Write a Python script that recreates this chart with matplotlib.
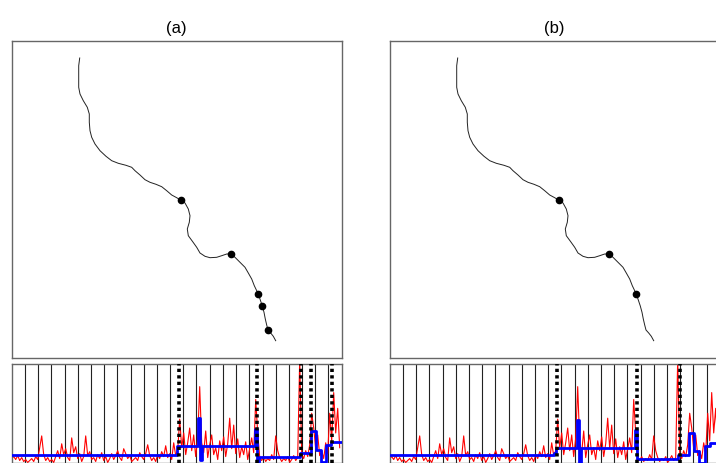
import numpy as np
import matplotlib.pyplot as plt

# river trace (map units, y grows downward)
path_x = [68.0, 67.0, 67.0, 67.0, 68.3, 71.6, 75.6, 77.6, 77.6, 78.3, 80.0, 83.3, 88.3, 94.3,
          100.0, 106.6, 114.3, 120.0, 123.3, 128.3, 133.3, 138.3, 144.3, 150.0, 155.0, 160.0,
          165.0, 169.3, 173.3, 176.6, 178.3, 177.6, 175.6, 176.6, 181.0, 185.0, 188.3, 193.3,
          198.3, 205.0, 210.0, 215.0, 219.3, 223.3, 228.3, 233.3, 236.6, 240.0, 242.6, 245.0,
          246.6, 248.6, 250.6, 252.3, 253.6, 255.0, 256.3, 259.0, 261.6, 264.0]
path_y = [17.3, 25.0, 35.0, 46.6, 53.3, 60.0, 66.6, 73.3, 81.6, 90.0, 96.6, 103.3, 110.0, 115.6,
          120.0, 122.6, 124.6, 126.6, 130.0, 134.3, 139.0, 141.6, 143.6, 146.0, 150.0, 154.3,
          157.0, 159.6, 162.3, 168.3, 175.0, 181.6, 188.3, 195.0, 201.0, 206.6, 212.3, 215.6,
          217.0, 216.6, 215.0, 213.3, 213.3, 216.6, 221.6, 226.6, 232.3, 238.3, 245.0, 250.0,
          253.3, 259.3, 265.3, 271.6, 278.3, 284.3, 289.3, 292.3, 295.6, 300.0]

# detected change points on the map
pts_a_x = [169.3, 219.3, 246.6, 250.6, 256.3]
pts_a_y = [159.6, 213.3, 253.3, 265.3, 289.3]
pts_b_x = [169.3, 219.3, 246.6]
pts_b_y = [159.6, 213.3, 253.3]

# signal along the trace
signal = [0.04, 0.06, 0.03, 0.07, 0.02, 0.05, 0.01, 0.03, 0.00, 0.02, 0.04, 0.01, 0.06, 0.03,
          0.15, 0.27, 0.08, 0.02, 0.05, 0.01, 0.03, 0.00, 0.06, 0.12, 0.04, 0.19, 0.08, 0.14,
          0.05, 0.02, 0.25, 0.10, 0.16, 0.04, 0.09, 0.01, 0.06, 0.27, 0.07, 0.11, 0.03, 0.05,
          0.01, 0.08, 0.04, 0.10, 0.02, 0.06, 0.00, 0.04, 0.09, 0.03, 0.07, 0.12, 0.05, 0.02,
          0.14, 0.09, 0.04, 0.07, 0.01, 0.03, 0.05, 0.02, 0.10, 0.06, 0.03, 0.09, 0.18, 0.07,
          0.02, 0.05, 0.01, 0.08, 0.04, 0.11, 0.06, 0.17, 0.05, 0.09, 0.03, 0.20, 0.07, 0.12,
          0.44, 0.15, 0.30, 0.08, 0.20, 0.35, 0.12, 0.28, 0.06, 0.25, 0.77, 0.20, 0.10, 0.32,
          0.05, 0.18, 0.28, 0.08, 0.15, 0.03, 0.22, 0.12, 0.26, 0.06, 0.19, 0.45, 0.14, 0.38,
          0.09, 0.24, 0.05, 0.16, 0.08, 0.21, 0.03, 0.14, 0.25, 0.10, 0.64, 0.30, 0.05, 0.02,
          0.06, 0.01, 0.04, 0.02, 0.08, 0.03, 0.27, 0.12, 0.05, 0.01, 0.04, 0.02, 0.06, 0.00,
          0.03, 0.07, 0.02, 0.05, 1.05, 0.08, 0.04, 0.12, 0.06, 0.18, 0.50, 0.35, 0.14, 0.28,
          0.07, 0.12, 0.04, 0.20, 0.09, 0.50, 0.22, 0.71, 0.30, 0.55, 0.15]
sig_pos = np.arange(len(signal)) * 2.0

# fitted piecewise-constant means
edges_a = [0, 165.5, 186.5, 188, 190, 243.5, 245.5, 247.5, 288.5, 299, 304.7, 309, 314.7, 319.7, 330]
levels_a = [0.075, 0.166, 0.45, 0.03, 0.166, 0.34, 0.01, 0.06, 0.095, 0.32, 0.122, 0.01, 0.177, 0.21]
edges_b = [0, 164.5, 166.5, 187.5, 189.5, 191.5, 245.3, 247.7, 288, 299.6, 304.3, 309.6, 315.3, 320.3, 330]
levels_b = [0.075, 0.10, 0.143, 0.43, 0.0, 0.143, 0.33, 0.04, 0.08, 0.30, 0.115, 0.0, 0.166, 0.2]

# change point markers
cps_a = [167.3, 245.3, 289.7, 299.2, 319.8]
cps_b = [167.0, 247.5, 290.5]

W, H = 716, 464
fig = plt.figure(figsize=(W / 100, H / 100), dpi=100)
plt.rcParams['font.family'] = ['Liberation Sans', 'DejaVu Sans']


def px_axes(left, top, w, h):
    return fig.add_axes([left / W, 1 - (top + h) / H, w / W, h / H])


def frame(ax):
    ax.set_xticks([])
    ax.set_yticks([])
    for s in ax.spines.values():
        s.set_color('#666666')
        s.set_linewidth(1.0)


panels = [
    (11.7, '(a)', pts_a_x, pts_a_y, edges_a, levels_a, cps_a),
    (389.7, '(b)', pts_b_x, pts_b_y, edges_b, levels_b, cps_b),
]

for left, title, px, py, edges, levels, cps in panels:
    m = px_axes(left, 41.7, 330, 317)
    m.plot(path_x, path_y, color='#222222', lw=0.7)
    m.plot(px, py, 'o', color='black', ms=4.5)
    m.set_xlim(0, 330)
    m.set_ylim(317, 0)
    frame(m)
    m.set_title(title, fontsize=12, pad=6)

    s = px_axes(left, 365, 330, 98.5)
    for xv in np.linspace(0, 330, 26)[1:-1]:
        s.axvline(xv, color='#222222', lw=0.8, zorder=1)
    s.plot(sig_pos, signal, color='red', lw=0.8, zorder=2)
    s.step(edges, levels + [levels[-1]], where='post', color='blue', lw=2.0, zorder=3)
    for c in cps:
        s.axvline(c, color='black', lw=2.6, dashes=(0.9, 0.9), zorder=4)
    s.set_xlim(0, 330)
    s.set_ylim(0, 1)
    frame(s)

fig.savefig('out.png', dpi=100)
